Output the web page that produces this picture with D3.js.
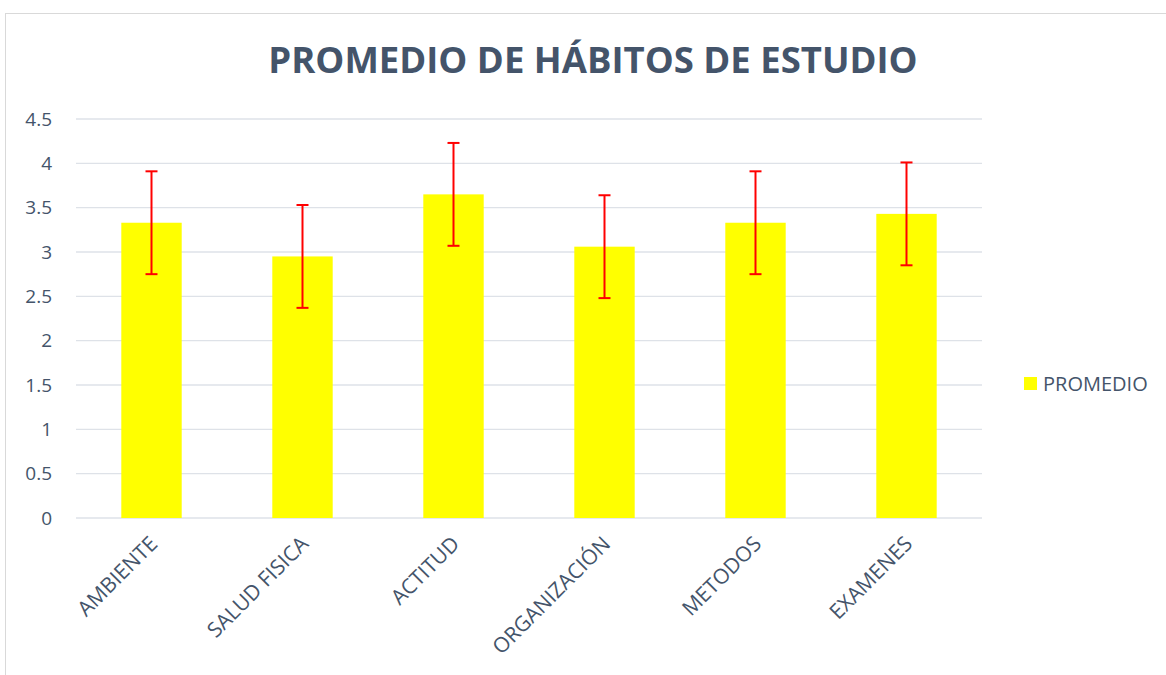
<!DOCTYPE html>
<html lang="es">
<head>
<meta charset="UTF-8">
<title>Promedio de hábitos de estudio</title>
<script src="https://cdnjs.cloudflare.com/ajax/libs/d3/7.8.4/d3.min.js"></script>
<style>
  body { margin: 0; background: #fff; }
  text { font-family: "Open Sans", Calibri, sans-serif; }
</style>
</head>
<body>
<div id="chart"></div>
<script>
  // datos
  const categorias = ["AMBIENTE", "SALUD FISICA", "ACTITUD", "ORGANIZACIÓN", "METODOS", "EXAMENES"];
  const promedios = [3.33, 2.95, 3.65, 3.06, 3.33, 3.43];
  const errores = [0.58, 0.58, 0.58, 0.58, 0.58, 0.58];
  const yTicks = [0, 0.5, 1, 1.5, 2, 2.5, 3, 3.5, 4, 4.5];

  const w = 1166, h = 675;
  const plotLeft = 76, plotRight = 982, plotTop = 119, plotBottom = 518;
  const textColor = "#44546A";

  const svg = d3.select("#chart").append("svg")
    .attr("width", w).attr("height", h);

  // marco del área del gráfico
  svg.append("rect")
    .attr("x", 5.5).attr("y", 13.5)
    .attr("width", w + 20).attr("height", h + 20)
    .attr("fill", "none").attr("stroke", "#D9D9D9");

  const x = d3.scaleBand().domain(categorias).range([plotLeft, plotRight]).paddingInner(0.6).paddingOuter(0.3);
  const y = d3.scaleLinear().domain([0, 4.5]).range([plotBottom, plotTop]);

  // rejilla
  svg.append("g").selectAll("line")
    .data(yTicks).enter().append("line")
    .attr("x1", plotLeft).attr("x2", plotRight)
    .attr("y1", d => y(d)).attr("y2", d => y(d))
    .attr("stroke", "#DEE2E8").attr("stroke-width", 1.3);

  // eje y
  const yAxis = d3.axisLeft(y).tickValues(yTicks).tickSize(0).tickPadding(0).tickFormat(d => d);
  const gy = svg.append("g").attr("transform", "translate(52,0)").call(yAxis);
  gy.select(".domain").remove();
  gy.selectAll("text").attr("fill", textColor).style("font-size", "19px");

  // barras
  svg.selectAll("rect.bar")
    .data(promedios).enter().append("rect")
    .attr("class", "bar")
    .attr("x", (d, i) => x(categorias[i]))
    .attr("width", x.bandwidth())
    .attr("y", d => y(d))
    .attr("height", d => plotBottom - y(d))
    .attr("fill", "#FFFF00");

  // barras de error
  const eg = svg.append("g").attr("stroke", "#FF0000").attr("stroke-width", 2);
  promedios.forEach((d, i) => {
    const cx = x(categorias[i]) + x.bandwidth() / 2;
    const y1 = y(d + errores[i]), y2 = y(d - errores[i]);
    eg.append("line").attr("x1", cx).attr("x2", cx).attr("y1", y1).attr("y2", y2);
    eg.append("line").attr("x1", cx - 6).attr("x2", cx + 6).attr("y1", y1).attr("y2", y1);
    eg.append("line").attr("x1", cx - 6).attr("x2", cx + 6).attr("y1", y2).attr("y2", y2);
  });

  // eje x
  const xAxis = d3.axisBottom(x).tickSize(0).tickPadding(0);
  const gx = svg.append("g").attr("transform", "translate(0," + plotBottom + ")").call(xAxis);
  gx.select(".domain").remove();
  gx.selectAll("text")
    .attr("fill", textColor).style("font-size", "21px")
    .attr("text-anchor", "end")
    .attr("dy", "0.35em")
    .attr("transform", "translate(2,22) rotate(-45)");

  // título
  svg.append("text")
    .attr("x", 593).attr("y", 73)
    .attr("text-anchor", "middle")
    .attr("fill", textColor)
    .style("font-size", "36.5px").style("font-weight", "bold")
    .text("PROMEDIO DE HÁBITOS DE ESTUDIO");

  // leyenda
  svg.append("rect").attr("x", 1024).attr("y", 377).attr("width", 13).attr("height", 13).attr("fill", "#FFFF00");
  svg.append("text").attr("x", 1043).attr("y", 384).attr("dy", "0.35em")
    .attr("fill", textColor).style("font-size", "20px").text("PROMEDIO");
</script>
</body>
</html>
